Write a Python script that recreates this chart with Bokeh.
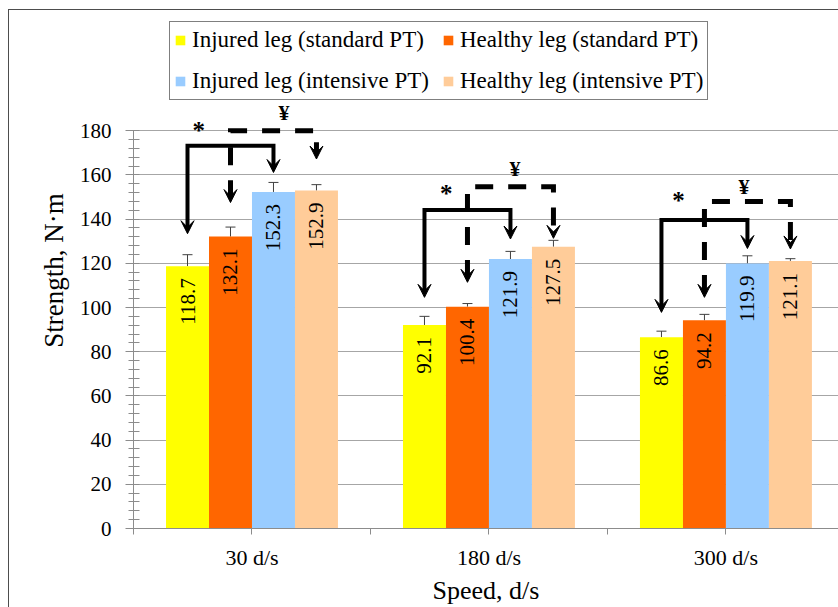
import numpy as np
from bokeh.plotting import figure
from bokeh.models import (ColumnDataSource, Range1d, FixedTicker, Whisker, TeeHead,
                          Arrow, VeeHead, Legend, LegendItem)
from bokeh.core.properties import value
from bokeh.embed import file_html
from bokeh.resources import INLINE

# ---------------- data ----------------
categories = ["30 d/s", "180 d/s", "300 d/s"]
series_names = ["Injured leg (standard PT)", "Healthy leg (standard PT)",
                "Injured leg (intensive PT)", "Healthy leg (intensive PT)"]
injured_std = [118.7, 92.1, 86.6]
healthy_std = [132.1, 100.4, 94.2]
injured_int = [152.3, 121.9, 119.9]
healthy_int = [152.9, 127.5, 121.1]
err_injured_std = [5.2, 3.9, 2.7]
err_healthy_std = [4.3, 1.4, 2.7]
err_injured_int = [4.3, 3.5, 3.5]
err_healthy_int = [2.7, 2.9, 1.0]
y_ticks = [0, 20, 40, 60, 80, 100, 120, 140, 160, 180]

# significance brackets (values in N·m)
solid_top = [173.2, 144.1, 139.6]
solid_tip_left = [133.4, 104.6, 97.8]
solid_tip_right = [161.1, 131.0, 126.7]
dash_top = [180.0, 154.7, 148.0]
dash_tip_left = [147.5, 111.4, 104.6]
dash_tip_right = [167.2, 131.3, 126.5]
star_level = [180.0, 151.6, 148.3]
yen_level = [188.3, 162.7, 154.7]
star_symbol = "*"
yen_symbol = "¥"

# ---------------- style ----------------
FONT = "Liberation Serif"
colors = ["#FFFF00", "#FF6600", "#99CCFF", "#FFCC99"]
BAR_W = 0.1814
star_dx = [-0.225, -0.18, -0.2]
yen_dx = [0.135, 0.11, 0.076]

values = [injured_std, healthy_std, injured_int, healthy_int]
errors = [err_injured_std, err_healthy_std, err_injured_int, err_healthy_int]
centers = np.arange(len(categories)) + 0.5
offsets = [(i - 1.5) * BAR_W for i in range(4)]

p = figure(width=838, height=607, output_backend="svg", toolbar_location=None,
           x_range=Range1d(0, 2.975), y_range=Range1d(0, 233.5),
           min_border_left=133, min_border_top=12, min_border_right=0,
           min_border_bottom=79)
p.outline_line_color = None
p.background_fill_color = "white"
p.border_fill_color = None
# outer chart-area border (only its left and top edges are in view)
p.styles = {
    "background": ("linear-gradient(#4d4d4d, #4d4d4d) 8px 9px / 1px 100% no-repeat, "
                   "linear-gradient(#4d4d4d, #4d4d4d) 8px 9px / 100% 1px no-repeat, "
                   "white"),
}

# grid
p.xgrid.visible = False
p.ygrid.grid_line_color = "#a6a6a6"
p.ygrid.grid_line_width = 1
p.ygrid.bounds = (0, 180)
p.ygrid.ticker = FixedTicker(ticks=y_ticks)

# y axis
p.yaxis.ticker = FixedTicker(ticks=y_ticks, minor_ticks=list(range(0, 181, 4)))
p.yaxis.bounds = (0, 180)
p.yaxis.axis_line_color = "#8c8c8c"
p.yaxis.major_tick_line_color = "#8c8c8c"
p.yaxis.minor_tick_line_color = "#8c8c8c"
p.yaxis.major_tick_out = 8
p.yaxis.major_tick_in = 0
p.yaxis.minor_tick_out = 5
p.yaxis.minor_tick_in = 6
p.yaxis.major_label_text_font = FONT
p.yaxis.major_label_text_font_size = "21px"
p.yaxis.major_label_text_color = "black"
p.yaxis.major_label_standoff = 14
p.yaxis.axis_label = "Strength, N·m"
p.yaxis.axis_label_text_font = FONT
p.yaxis.axis_label_text_font_size = "27px"
p.yaxis.axis_label_text_font_style = "normal"
p.yaxis.axis_label_text_color = "black"
p.yaxis.axis_label_standoff = 8

# x axis
overrides = {}
for i, c in enumerate(categories):
    overrides[i] = ""
    overrides[i + 0.5] = c
p.xaxis.ticker = FixedTicker(ticks=sorted(overrides.keys()))
p.xaxis.major_label_overrides = overrides
p.xaxis.axis_line_color = "#8c8c8c"
p.xaxis.major_tick_line_color = "#8c8c8c"
p.xaxis.minor_tick_line_color = None
p.xaxis.major_tick_out = 6
p.xaxis.major_tick_in = 0
p.xaxis.major_label_text_font = FONT
p.xaxis.major_label_text_font_size = "22px"
p.xaxis.major_label_text_color = "black"
p.xaxis.major_label_standoff = 10
p.xaxis.axis_label = "Speed, d/s"
p.xaxis.axis_label_text_font = FONT
p.xaxis.axis_label_text_font_size = "26px"
p.xaxis.axis_label_text_font_style = "normal"
p.xaxis.axis_label_text_color = "black"
p.xaxis.axis_label_standoff = 3

# bars
renderers = []
for i in range(4):
    xs = centers + offsets[i]
    src = ColumnDataSource(dict(x=xs, top=values[i],
                                upper=np.array(values[i]) + np.array(errors[i]),
                                lower=values[i],
                                label=[f"{v:.1f}" for v in values[i]]))
    r = p.vbar(x="x", top="top", width=BAR_W, bottom=0, source=src,
               fill_color=colors[i], line_color=None)
    renderers.append(r)
    w = Whisker(source=src, base="x", upper="upper", lower="lower",
                line_color="#404040", line_width=1,
                upper_head=TeeHead(size=10, line_color="#404040", line_width=1),
                lower_head=None)
    p.add_layout(w)
    p.text(x="x", y="top", text="label", source=src, angle=np.pi / 2,
           text_align="right", text_baseline="middle", y_offset=12,
           text_font=value(FONT), text_font_size="21px", text_color="black")

# significance brackets
def bracket(left_i, right_i, top, tip_l, tip_r, dash, width):
    xs, ys = [], []
    heads = dict(x0=[], y0=[], x1=[], y1=[])
    for g in range(len(categories)):
        xl = centers[g] + offsets[left_i]
        xr = centers[g] + offsets[right_i]
        xs.append([xl, xl, xr, xr])
        ys.append([tip_l[g] + 2, top[g], top[g], tip_r[g] + 2])
        for xx, tt in ((xl, tip_l[g]), (xr, tip_r[g])):
            heads["x0"].append(xx)
            heads["y0"].append(tt + 3)
            heads["x1"].append(xx)
            heads["y1"].append(tt)
    p.multi_line(xs=xs, ys=ys, line_color="black", line_width=width,
                 line_dash=dash, line_join="miter")
    hs = ColumnDataSource(heads)
    p.add_layout(Arrow(x_start="x0", y_start="y0", x_end="x1", y_end="y1",
                       source=hs, line_alpha=0, line_width=0,
                       end=VeeHead(size=13, fill_color="black",
                                   line_color="black", line_width=1)))

bracket(0, 2, solid_top, solid_tip_left, solid_tip_right, "solid", 4)
bracket(1, 3, dash_top, dash_tip_left, dash_tip_right, "18 15", 5)

p.text(x=list(centers + np.array(star_dx)), y=star_level, text=[star_symbol] * 3,
       text_align="center", text_baseline="middle", text_font=value(FONT),
       text_font_size="25px", text_font_style="bold", text_color="black")
p.text(x=list(centers + np.array(yen_dx)), y=yen_level, text=[yen_symbol] * 3,
       text_align="center", text_baseline="middle", text_font=value(FONT),
       text_font_size="22px", text_font_style="bold", text_color="black")

# legend (column-major fill -> rows: standard PT / intensive PT)
order = [0, 2, 1, 3]
items = [LegendItem(label=series_names[i], renderers=[renderers[i]]) for i in order]
legend = Legend(items=items, ncols=2, location=(36, 428),
                label_text_font=FONT, label_text_font_size="23px",
                label_text_color="black", label_height=28, label_standoff=6,
                glyph_width=12, glyph_height=12, spacing=13, padding=4, margin=0,
                border_line_color="black", border_line_width=1,
                background_fill_color="white", background_fill_alpha=1)
p.add_layout(legend)

open("out.html", "w").write(file_html(p, INLINE))
